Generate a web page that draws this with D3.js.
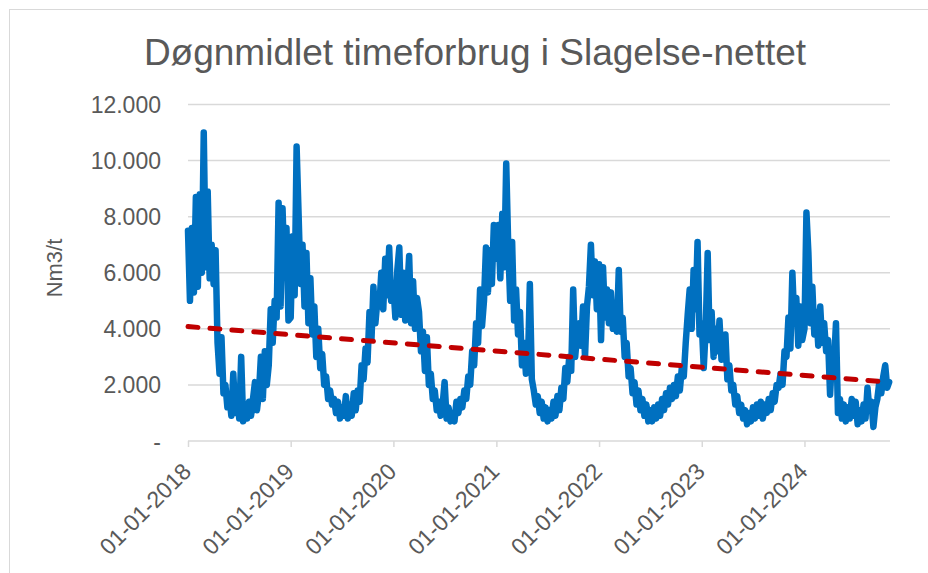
<!DOCTYPE html>
<head>
    <meta charset="utf-8">
    <script src="https://cdnjs.cloudflare.com/ajax/libs/d3/7.8.5/d3.min.js"></script>
    <style>
        html, body {
            margin: 0px;
            padding: 0px;
            background: #fff;
        }
        svg {
            display: block;
        }
        text {
            font-family: "Liberation Sans", Arial, sans-serif;
            fill: #595959;
        }
    </style>
</head>

<body>
<svg id="chart1" width="928" height="573"></svg>

<script>
// weekly readings (Nm3/t), one array per year, week 0 = 1 January
var v2018 = [7500, 5000, 7600, 5300, 8700, 5500, 8800, 6000, 11000, 6200, 8900, 5800, 7000, 5600, 6800, 3500,
             2400, 3700, 1700, 2000, 1200, 1600, 900, 2400, 1000, 1800, 800, 3000, 700, 1200, 800, 1400,
             900, 1500, 2100, 1100, 1700, 3000, 1500, 3200, 2000, 2700, 4700, 3500, 5000, 4400, 8500, 4800,
             8300, 6000, 7600, 4300];
var v2019 = [4400, 7300, 5200, 10500, 8100, 5600, 7000, 4800, 6700, 4200, 5800, 3800, 4800, 3000, 4000, 2600,
             3100, 2000, 2300, 1500, 1800, 1300, 1500, 1000, 1400, 800, 1200, 900, 1600, 800, 1300, 900,
             1700, 1100, 1800, 1400, 2700, 2200, 3300, 2800, 4600, 3600, 5500, 4200, 5000, 4800, 6000, 4700,
             6500, 5200, 6900, 5000];
var v2020 = [5500, 4400, 6100, 6900, 4500, 6000, 4300, 5300, 6600, 4200, 5700, 4000, 5100, 4600, 3200, 3900,
             2500, 3700, 2000, 2400, 1500, 1800, 1100, 1400, 900, 1300, 2100, 800, 1200, 700, 1000, 700,
             1400, 1000, 1500, 1200, 1800, 1500, 2300, 2000, 3200, 2700, 4200, 3500, 5400, 4100, 5000, 6900,
             5300, 6800, 5600, 7700];
var v2021 = [6500, 7700, 5800, 8100, 6200, 9900, 7000, 5000, 7100, 4300, 5400, 3800, 4600, 2700, 3500, 2400,
             2700, 5600, 2200, 1800, 1300, 1600, 1000, 1400, 800, 1200, 700, 1100, 800, 1400, 900, 1600,
             1100, 1900, 1500, 2600, 2100, 3000, 2500, 5400, 3000, 3800, 4200, 3400, 4800, 3000, 4800, 5500,
             7000, 5200, 6400, 4700];
var v2022 = [6300, 3600, 6200, 4400, 5400, 4200, 5300, 4000, 4900, 3900, 6100, 3900, 4400, 3000, 3500, 2300,
             2600, 1700, 2100, 1300, 1800, 1100, 1500, 900, 1300, 700, 1100, 700, 1200, 800, 1300, 900,
             1500, 1100, 1700, 1300, 1900, 1500, 2000, 1600, 2300, 1800, 2600, 2300, 3500, 4500, 5400, 4000,
             6100, 4700, 7100, 3800];
var v2023 = [4200, 2600, 4000, 6700, 3600, 4600, 3000, 4000, 3200, 4300, 2900, 3100, 3800, 2200, 2700, 1800,
             2000, 1300, 1600, 1000, 1300, 800, 1100, 600, 1000, 700, 1200, 800, 1300, 900, 1400, 800,
             1300, 1000, 1500, 1100, 1700, 1400, 2000, 1900, 2400, 2000, 3200, 3000, 4400, 3300, 6000, 4200,
             5100, 3400, 4800, 3600];
var v2024 = [4000, 8150, 6700, 4200, 5500, 3800, 4600, 3400, 4800, 3500, 4200, 3200, 3600, 1650, 3000, 2800,
             4200, 1000, 1500, 800, 1300, 700, 1200, 800, 1500, 900, 1400, 600, 1100, 700, 1300, 800,
             1900, 1100, 1400, 500, 1200, 1500, 2100, 1700, 2300, 2700, 1900, 2100];

var years = [2018, 2019, 2020, 2021, 2022, 2023, 2024];
var yearValues = [v2018, v2019, v2020, v2021, v2022, v2023, v2024];
// linear trendline, value at first and last reading
var trendValues = [4080, 2100];
var yTicks = [0, 2000, 4000, 6000, 8000, 10000, 12000];
var title = "Døgnmidlet timeforbrug i Slagelse-nettet";
var yTitle = "Nm3/t";

var series = [];
years.forEach(function(y, i) {
    yearValues[i].forEach(function(v, w) {
        series.push({ date: new Date(y, 0, 1 + 7 * w), value: v });
    });
});

var svg = d3.select('#chart1');

svg.append('rect')
    .attr('x', 9.5).attr('y', 9.5)
    .attr('width', 940).attr('height', 600)
    .attr('fill', 'none')
    .attr('stroke', '#d9d9d9');

var x = d3.scaleTime()
    .domain([new Date(2018, 0, 1), new Date(2024, 9, 31)])
    .range([188, 890]);
var y = d3.scaleLinear()
    .domain([0, 12000])
    .range([441, 104.5]);

// gridlines
svg.append('g')
    .selectAll('line')
    .data(yTicks.slice(1))
    .join('line')
    .attr('x1', 188).attr('x2', 890)
    .attr('y1', function(d) { return y(d); })
    .attr('y2', function(d) { return y(d); })
    .attr('stroke', '#d9d9d9')
    .attr('stroke-width', 1.5);

// y labels
svg.append('g')
    .selectAll('text')
    .data(yTicks)
    .join('text')
    .attr('x', 161)
    .attr('y', function(d) { return y(d) + 8.5; })
    .attr('text-anchor', 'end')
    .style('font-size', '23px')
    .text(function(d) { return d === 0 ? '-' : d3.format(',')(d).replace(/,/g, '.'); });

// x axis
var xTicks = years.map(function(yr) { return new Date(yr, 0, 1); });
var xAxis = d3.axisBottom(x)
    .tickValues(xTicks)
    .tickSize(6)
    .tickFormat(d3.timeFormat('%d-%m-%Y'));
var gx = svg.append('g')
    .attr('transform', 'translate(0,441)')
    .call(xAxis);
gx.select('.domain').attr('stroke', '#d9d9d9').attr('stroke-width', 1.5).attr('d', 'M188,0H890');
gx.selectAll('.tick line').attr('stroke', '#d9d9d9').attr('stroke-width', 1.5);
gx.selectAll('.tick text')
    .attr('fill', '#595959')
    .style('font-size', '23px')
    .style('font-family', '"Liberation Sans", Arial, sans-serif')
    .attr('text-anchor', 'end')
    .attr('dy', null)
    .attr('y', 0)
    .attr('transform', 'translate(4,32) rotate(-45)');

// data line
var line = d3.line()
    .x(function(d) { return x(d.date); })
    .y(function(d) { return y(d.value); });
svg.append('path')
    .datum(series)
    .attr('fill', 'none')
    .attr('stroke', '#0070c0')
    .attr('stroke-width', 6.5)
    .attr('stroke-linejoin', 'round')
    .attr('stroke-linecap', 'round')
    .attr('d', line);

// trendline
var trend = [
    { date: series[0].date, value: trendValues[0] },
    { date: series[series.length - 1].date, value: trendValues[1] }
];
svg.append('path')
    .datum(trend)
    .attr('fill', 'none')
    .attr('stroke', '#c00000')
    .attr('stroke-width', 5)
    .attr('stroke-dasharray', '10,12')
    .attr('stroke-linecap', 'round')
    .attr('d', line);

// titles
svg.append('text')
    .attr('x', 475)
    .attr('y', 64.5)
    .attr('text-anchor', 'middle')
    .style('font-size', '37px')
    .text(title);

svg.append('text')
    .attr('transform', 'translate(62,268) rotate(-90)')
    .attr('text-anchor', 'middle')
    .style('font-size', '22px')
    .text(yTitle);
</script>

</body>
</html>
